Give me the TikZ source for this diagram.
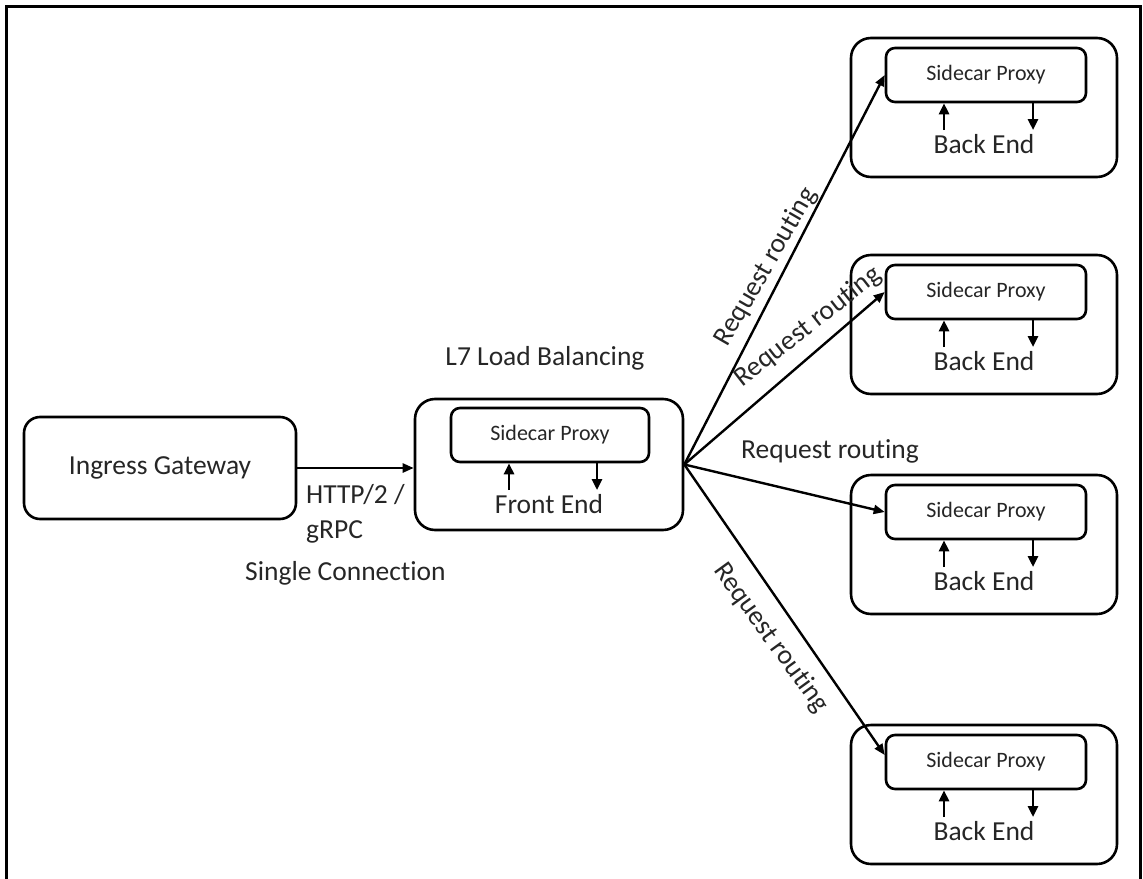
\documentclass[tikz,border=0pt]{standalone}
\usepackage{fontspec}
\setmainfont{Carlito}[Ligatures={NoCommon}]
\usetikzlibrary{arrows.meta,calc}
\begin{document}
\begin{tikzpicture}[x=1pt,y=-1pt,
  txt/.style={text=black!85, font=\fontsize{27.5}{33}\selectfont, inner sep=0pt},
  small/.style={text=black!85, font=\fontsize{22}{26}\selectfont, inner sep=0pt},
  outerbox/.style={draw, line width=2.6pt, rounded corners=20pt, inner sep=0pt},
  innerbox/.style={draw, line width=2.6pt, rounded corners=9pt, inner sep=0pt, minimum width=200pt, minimum height=54pt},
  conn/.style={line width=2.4pt, -{Triangle[length=11pt,width=9pt]}},
  updown/.style={line width=2.6pt, -{Triangle[length=11pt,width=10pt]}}]
\useasboundingbox (0,0) rectangle (1143,878);
\clip (0,0) rectangle (1143,878);
\draw[line width=3pt] (6,6) rectangle (1140,900);

% Ingress gateway
\node[outerbox, rounded corners=16pt, minimum width=272pt, minimum height=102pt, txt] (ig) at (160,468) {Ingress Gateway};

% Front end
\node[outerbox, minimum width=268pt, minimum height=131pt] (fo) at (549,464.5) {};
\node[innerbox, minimum width=198pt] (fi) at (550,435) {};
\node[small, anchor=base] (fs) at (550,440) {Sidecar Proxy};
\node[txt, anchor=base] (fe) at (549,513) {Front End};
\coordinate (fu) at (509,490);
\coordinate (fd) at (597,490);
\draw[updown] (fu) -- (fu |- fi.south);
\draw[updown] (fd |- fi.south) -- (fd);

% Back ends
\foreach \i/\t in {1/38,2/255,3/475,4/725}{
  \node[outerbox, minimum width=266pt, minimum height=139pt] (bo\i) at (984,\t+69.5) {};
  \node[innerbox] (bi\i) at (986,\t+37) {};
  \node[small, anchor=base] (bs\i) at (986,\t+42) {Sidecar Proxy};
  \node[txt, anchor=base] (be\i) at (984,\t+115) {Back End};
  \coordinate (bu\i) at (944,\t+92);
  \coordinate (bd\i) at (1033,\t+92);
  \draw[updown] (bu\i) -- (bu\i |- bi\i.south);
  \draw[updown] (bd\i |- bi\i.south) -- (bd\i);
}

% Connectors
\draw[conn] (ig.east) -- (ig.east -| fo.west);
\draw[conn] (fo.east) -- (bi1.west);
\draw[conn] (fo.east) -- (bi2.west);
\draw[conn] (fo.east) -- (bi3.west);
\draw[conn] (fo.east) -- ($(bi4.west)+(0,-7)$);

% Labels
\node[txt, anchor=base west] (http) at (306,503) {HTTP/2 /};
\node[txt, anchor=base west] (grpc) at (306,538) {gRPC};
\node[txt, anchor=base west] (single) at (245,580) {Single Connection};
\node[txt, anchor=base] (l7) at (545,365) {L7 Load Balancing};
\node[txt, anchor=base] (rr3) at (830,458) {Request routing};
\node[txt, rotate=60] (rr1) at (766,267) {Request routing};
\node[txt, rotate=38] (rr2) at (808,327) {Request routing};
\node[txt, rotate=-54] (rr4) at (771,638) {Request routing};
\end{tikzpicture}
\end{document}
